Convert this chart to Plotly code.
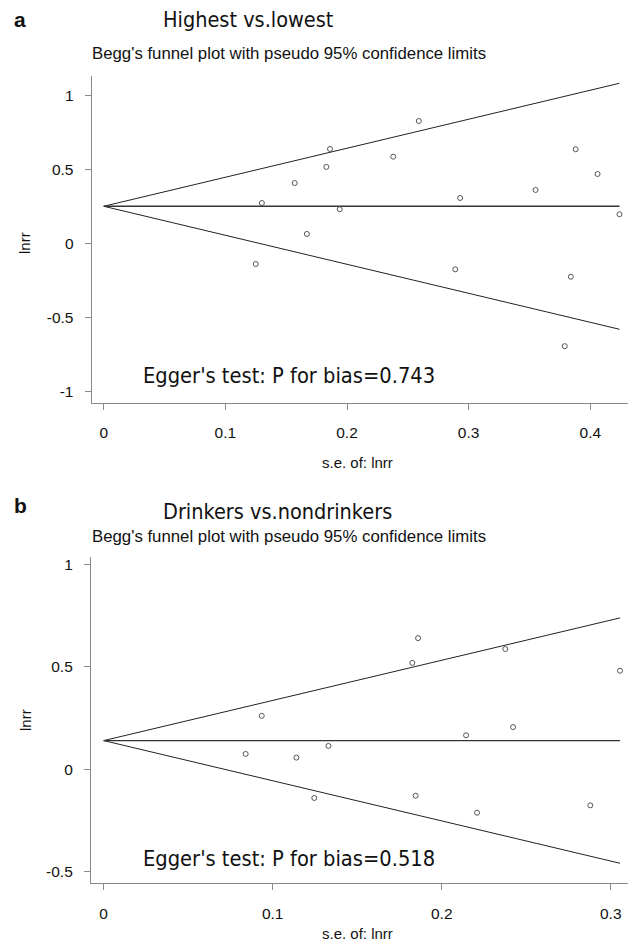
import plotly.graph_objects as go

# ---- Data: panel a (Highest vs. lowest) ----
se_a = [0.125, 0.130, 0.157, 0.167, 0.183, 0.186, 0.194, 0.238, 0.259,
        0.289, 0.293, 0.355, 0.379, 0.384, 0.388, 0.406, 0.424]
lnrr_a = [-0.140, 0.272, 0.407, 0.063, 0.516, 0.637, 0.230, 0.585, 0.826,
          -0.176, 0.306, 0.360, -0.695, -0.226, 0.635, 0.468, 0.196]
pooled_a = 0.25
egger_a = "Egger's test: P for bias=0.743"

# ---- Data: panel b (Drinkers vs. nondrinkers) ----
se_b = [0.084, 0.0935, 0.114, 0.1246, 0.133, 0.1826, 0.1846, 0.186, 0.2144,
        0.2209, 0.2376, 0.2422, 0.2879, 0.3055]
lnrr_b = [0.075, 0.261, 0.057, -0.140, 0.114, 0.519, -0.129, 0.640, 0.166,
          -0.212, 0.587, 0.206, -0.176, 0.481]
pooled_b = 0.14
egger_b = "Egger's test: P for bias=0.518"

xticks_a = [0, 0.1, 0.2, 0.3, 0.4]
yticks_a = [-1, -0.5, 0, 0.5, 1]
xticks_b = [0, 0.1, 0.2, 0.3]
yticks_b = [-0.5, 0, 0.5, 1]
z = 1.96

W, H = 638, 943
fig = go.Figure()

def px_x(p):
    return p / W

def px_y(p):
    return 1 - p / H

line_col = "#222222"
axis_col = "#8a8a8a"
mark_col = "#555555"

def add_panel(se, lnrr, pooled, xa, ya):
    smax = max(se)
    fig.add_trace(go.Scatter(x=[0, smax], y=[pooled, pooled + z * smax], mode="lines",
                             line=dict(color=line_col, width=1), xaxis=xa, yaxis=ya, hoverinfo="skip"))
    fig.add_trace(go.Scatter(x=[0, smax], y=[pooled, pooled - z * smax], mode="lines",
                             line=dict(color=line_col, width=1), xaxis=xa, yaxis=ya, hoverinfo="skip"))
    fig.add_trace(go.Scatter(x=[0, smax], y=[pooled, pooled], mode="lines",
                             line=dict(color="#333333", width=1.3), xaxis=xa, yaxis=ya, hoverinfo="skip"))
    fig.add_trace(go.Scatter(x=se, y=lnrr, mode="markers", xaxis=xa, yaxis=ya,
                             marker=dict(symbol="circle-open", size=5, color=mark_col,
                                         line=dict(width=1, color=mark_col))))

add_panel(se_a, lnrr_a, pooled_a, "x", "y")
add_panel(se_b, lnrr_b, pooled_b, "x2", "y2")

tick_font = dict(family="Liberation Sans, Arial, sans-serif", size=15.5, color="#111111")

def axis_common():
    return dict(showgrid=False, zeroline=False, showline=True, linecolor=axis_col, linewidth=1.2,
                ticks="outside", ticklen=6, tickcolor=axis_col, tickwidth=1, tickfont=tick_font,
                fixedrange=True)

fig.update_layout(
    width=W, height=H, margin=dict(l=0, r=0, t=0, b=0),
    paper_bgcolor="white", plot_bgcolor="white", showlegend=False,
    xaxis=dict(domain=[px_x(91.7), px_x(628)], range=[-0.0099, 0.431], anchor="y",
               tickvals=xticks_a, ticktext=[f"{v:g}" for v in xticks_a], ticklabelstandoff=10,
               **axis_common()),
    yaxis=dict(domain=[px_y(402.7), px_y(76)], range=[-1.077, 1.13], anchor="x",
               tickvals=yticks_a, ticktext=[f"{v:g}" for v in yticks_a], ticklabelstandoff=8,
               **axis_common()),
    xaxis2=dict(domain=[px_x(91), px_x(628)], range=[-0.0075, 0.3102], anchor="y2",
                tickvals=xticks_b, ticktext=[f"{v:g}" for v in xticks_b], ticklabelstandoff=10,
                **axis_common()),
    yaxis2=dict(domain=[px_y(883), px_y(557)], range=[-0.555, 1.036], anchor="x2",
                tickvals=yticks_b, ticktext=[f"{v:g}" for v in yticks_b], ticklabelstandoff=8,
                **axis_common()),
)

title_font = dict(family="DejaVu Sans Condensed, DejaVu Sans, sans-serif", size=21.5, color="#111111")
sub_font = dict(family="Liberation Sans, Arial, sans-serif", size=16.8, color="#111111")
egger_font = dict(family="DejaVu Sans Condensed, DejaVu Sans, sans-serif", size=21.7, color="#111111")
lab_font = dict(family="Liberation Sans, Arial, sans-serif", size=15, color="#111111")
letter_font = dict(family="Liberation Sans, Arial", size=21, color="#111111")

def ann(text, x, y, font, xanchor="left", yanchor="middle", textangle=0):
    fig.add_annotation(text=text, x=px_x(x), y=px_y(y), xref="paper", yref="paper",
                       xanchor=xanchor, yanchor=yanchor, showarrow=False, font=font,
                       textangle=textangle)

# Panel a texts
ann("<b>a</b>", 12, 20, letter_font)
ann("Highest vs.lowest", 161, 20, title_font)
ann("Begg's funnel plot with pseudo 95% confidence limits", 90, 53, sub_font)
ann(egger_a, 141, 376, egger_font)
ann("lnrr", 25, 243, lab_font, xanchor="center", textangle=-90)
ann("s.e. of: lnrr", 357, 462, lab_font, xanchor="center")

# Panel b texts
ann("<b>b</b>", 12, 505, letter_font)
ann("Drinkers vs.nondrinkers", 161, 511, title_font)
ann("Begg's funnel plot with pseudo 95% confidence limits", 90, 536, sub_font)
ann(egger_b, 141, 858, egger_font)
ann("lnrr", 25, 720, lab_font, xanchor="center", textangle=-90)
ann("s.e. of: lnrr", 357, 933, lab_font, xanchor="center")

fig.write_html("out.html", config={"displayModeBar": False},
               post_script="document.body.style.margin='0';")
